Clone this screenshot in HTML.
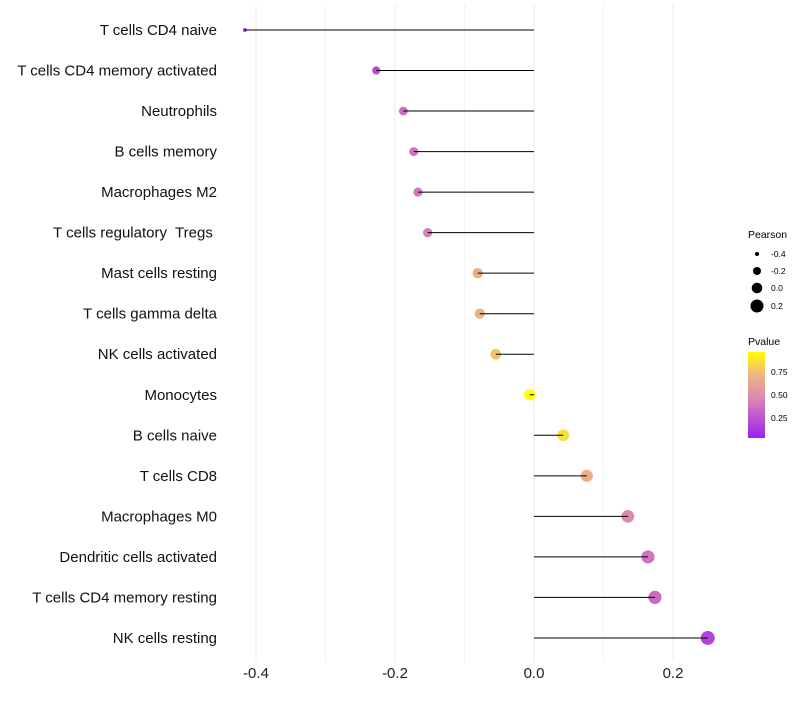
<!DOCTYPE html>
<html><head><meta charset="utf-8"><style>
body{margin:0;background:#fff;font-family:"Liberation Sans",sans-serif}
text{white-space:pre}
</style></head><body>
<svg id="c" width="800" height="700" xmlns="http://www.w3.org/2000/svg">
<defs><linearGradient id="pg" x1="0" y1="1" x2="0" y2="0">
<stop offset="0" stop-color="#A020F0"/><stop offset="0.45" stop-color="#D886B4"/><stop offset="0.75" stop-color="#F0B880"/><stop offset="1" stop-color="#FFFF00"/></linearGradient></defs>
<g id="grid"></g><g id="dots"></g><g id="marks"></g><g id="labels"></g>
<g font-size="10">
<text x="748" y="238" font-size="10.5">Pearson</text>
<circle cx="757" cy="254" r="2"/><text x="771" y="257" font-size="8.5">-0.4</text>
<circle cx="757" cy="271" r="4"/><text x="771" y="274" font-size="8.5">-0.2</text>
<circle cx="757" cy="288" r="5.3"/><text x="771" y="291" font-size="8.5">0.0</text>
<circle cx="757" cy="306" r="6.5"/><text x="771" y="309" font-size="8.5">0.2</text>
<text x="748" y="345" font-size="10.5">Pvalue</text>
<rect x="748" y="352" width="17" height="86" fill="url(#pg)"/>
<text x="771" y="375" font-size="8.5">0.75</text>
<text x="771" y="398" font-size="8.5">0.50</text>
<text x="771" y="421" font-size="8.5">0.25</text>
</g>
</svg>
<script>
const categories=["T cells CD4 naive","T cells CD4 memory activated","Neutrophils","B cells memory","Macrophages M2","T cells regulatory  Tregs ","Mast cells resting","T cells gamma delta","NK cells activated","Monocytes","B cells naive","T cells CD8","Macrophages M0","Dendritic cells activated","T cells CD4 memory resting","NK cells resting"];
const pearson=[-0.416,-0.227,-0.188,-0.173,-0.167,-0.153,-0.081,-0.078,-0.055,-0.006,0.042,0.076,0.135,0.164,0.174,0.250];
const pvalue=[0.2,0.3,0.42,0.45,0.47,0.5,0.72,0.74,0.8,0.97,0.88,0.72,0.55,0.45,0.42,0.27];
const xticks=[-0.4,-0.2,0.0,0.2];
const minorTicks=[-0.3,-0.1,0.1];
const NS="http://www.w3.org/2000/svg";
const xs=v=>534+v*695;
const ys=i=>30+i*40.53;
const rad=v=>Math.sqrt(4+(v+0.416)/0.666*45);
function lerp(a,b,t){return a+(b-a)*t}
const stops=[[0.13,[160,32,240]],[0.52,[216,134,180]],[0.77,[240,184,128]],[0.97,[255,255,0]]];
function col(p){if(p<=stops[0][0])return"rgb(160,32,240)";for(let k=0;k<stops.length-1;k++){const[a,c1]=stops[k],[b,c2]=stops[k+1];if(p<=b){const t=(p-a)/(b-a);return`rgb(${c1.map((c,j)=>Math.round(lerp(c,c2[j],t))).join(",")})`}}return"rgb(255,255,0)"}
function mk(tag,at,parent){const e=document.createElementNS(NS,tag);for(const k in at)e.setAttribute(k,at[k]);document.getElementById(parent).appendChild(e);return e}
minorTicks.forEach(t=>{const l=mk("line",{x1:xs(t),x2:xs(t),y1:5,y2:662,stroke:"#f2f2f2","stroke-width":1},"grid");

});
xticks.forEach(t=>{const l=mk("line",{x1:xs(t),x2:xs(t),y1:5,y2:662,stroke:"#ebebeb","stroke-width":1},"grid");


const tx=mk("text",{x:xs(t),y:678,"text-anchor":"middle","font-size":"15",fill:"#222"},"labels");tx.textContent=t.toFixed(1);

});
categories.forEach((c,i)=>{const y=ys(i);
const d=mk("circle",{cx:xs(pearson[i]),cy:y,r:rad(pearson[i]),fill:col(pvalue[i])},"dots");


const l=mk("line",{x1:xs(0),x2:xs(pearson[i]),y1:y,y2:y,stroke:"#000","stroke-width":1},"marks");


const t=mk("text",{x:217,y:y+5,"text-anchor":"end","font-size":"15",fill:"#111"},"labels");t.textContent=c;

});
</script>
</body></html>
